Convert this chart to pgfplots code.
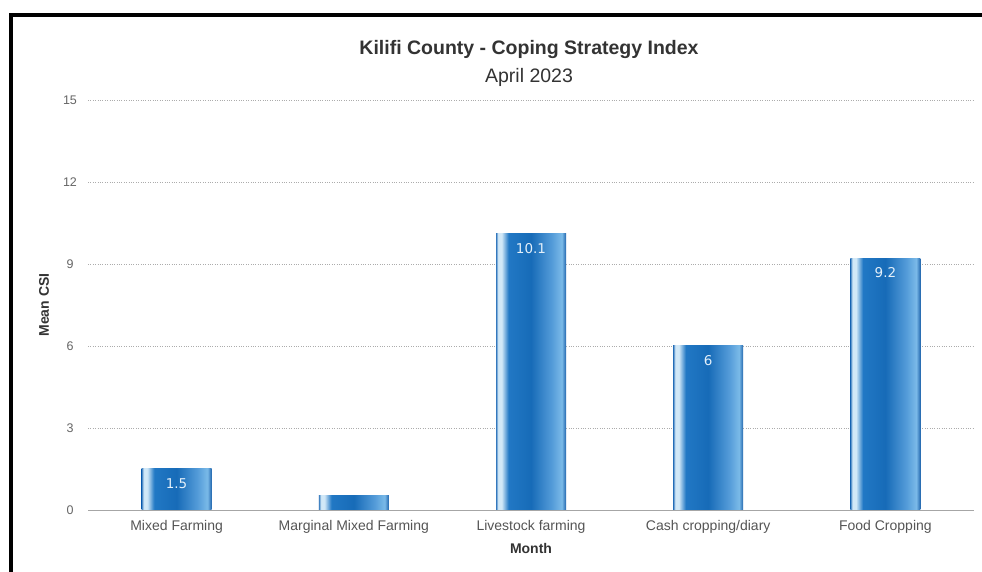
\documentclass[border=0pt]{standalone}
\usepackage{pgfplots}
\pgfplotsset{compat=1.18}
\usepackage{fontspec}
\setmainfont{Liberation Sans}
\newfontfamily\dejavu{DejaVu Sans}
\definecolor{titlegray}{HTML}{333333}
\definecolor{tickgray}{HTML}{666666}
\definecolor{catgray}{HTML}{555555}
\definecolor{lbltext}{HTML}{E4F0FA}
\definecolor{edgeL}{rgb}{0.20,0.47,0.74}
\definecolor{hilite}{rgb}{0.82,0.91,0.97}
\definecolor{deepblue}{rgb}{0.13,0.47,0.77}
\definecolor{midblue}{rgb}{0.09,0.42,0.72}
\definecolor{lightblue}{rgb}{0.33,0.61,0.85}
\definecolor{lightblue2}{rgb}{0.48,0.73,0.91}
\definecolor{edgeR}{rgb}{0.13,0.40,0.68}
% TikZ maps 25bp..75bp of the shading onto the path's bounding box
\pgfdeclarehorizontalshading{barshade}{100bp}{color(0bp)=(edgeL); color(25bp)=(edgeL); color(26.5bp)=(hilite); color(29bp)=(hilite); color(34bp)=(deepblue); color(50bp)=(midblue); color(65bp)=(lightblue); color(72bp)=(lightblue2); color(75bp)=(edgeR); color(100bp)=(edgeR)}
\begin{document}
\begin{tikzpicture}
\useasboundingbox (0,0) rectangle (982bp,572bp);
\fill[white] (0,0) rectangle (982bp,572bp);
\fill[black] (8.5bp,0) rectangle (12.5bp,559bp);
\fill[black] (8.5bp,555bp) rectangle (982bp,559bp);
\node[font=\fontsize{19.5bp}{22bp}\selectfont\bfseries, text=titlegray] at (529bp,522bp) {Kilifi County - Coping Strategy Index};
\node[font=\fontsize{19.5bp}{22bp}\selectfont, text=titlegray] at (529bp,495bp) {April 2023};
\begin{axis}[
  at={(88bp,62bp)}, anchor=south west, scale only axis,
  width=886bp, height=410bp,
  xmin=-0.5, xmax=4.5, ymin=0, ymax=15,
  ytick={0,3,...,15}, xtick={0,...,4},
  xticklabels={Mixed Farming, Marginal Mixed Farming, Livestock farming, Cash cropping/diary, Food Cropping},
  axis x line=bottom, axis y line=left,
  x axis line style={-, draw=gray!70, line width=0.8pt},
  y axis line style={draw=none},
  tick style={draw=none}, major tick length=0pt,
  ymajorgrids, grid style={dotted, draw=gray!65, line width=0.6pt},
  yticklabel style={anchor=center, inner sep=0pt, xshift=-18bp, text=tickgray, font=\fontsize{12.5bp}{14bp}\selectfont},
  xticklabel style={anchor=base, inner sep=0pt, yshift=-20bp, text=catgray, font=\fontsize{14bp}{16bp}\selectfont},
  every axis y label/.style={at={(axis description cs:-0.0497,0.5)}, anchor=center, rotate=90, font=\fontsize{14bp}{16bp}\selectfont\bfseries, text=titlegray},
  every axis x label/.style={at={(axis description cs:0.5,-0.1049)}, anchor=base, font=\fontsize{14bp}{16bp}\selectfont\bfseries, text=titlegray},
  ylabel={Mean CSI}, xlabel={Month},
  /pgf/number format/assume math mode=true,
  mybar/.style={ybar, bar width=70bp, bar shift=0pt, draw=none, shade, shading=barshade},
  lbl/.style={nodes near coords, nodes near coords style={anchor=north, inner sep=0pt, yshift=-9bp, text=lbltext, font=\dejavu\fontsize{13.5bp}{15bp}\selectfont}},
]
\addplot[mybar, lbl] coordinates {(0,1.5)};
\addplot[mybar] coordinates {(1,0.52)};
\addplot[mybar, lbl] coordinates {(2,10.1)};
\addplot[mybar, lbl] coordinates {(3,6)};
\addplot[mybar, lbl] coordinates {(4,9.2)};
\end{axis}
\end{tikzpicture}
\end{document}
